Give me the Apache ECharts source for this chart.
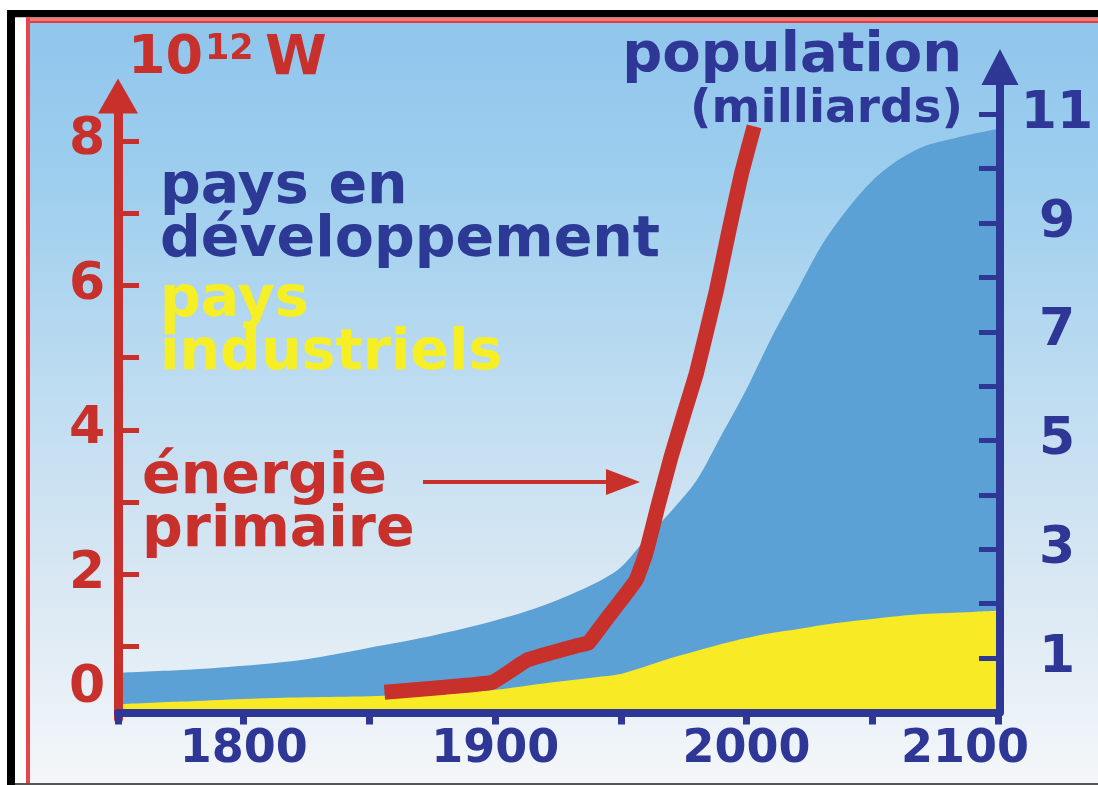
<!DOCTYPE html>
<html>
<head>
<meta charset="utf-8">
<script src="https://cdn.jsdelivr.net/npm/echarts@6/dist/echarts.min.js"></script>
<style>
  html, body { margin: 0; padding: 0; background: #fff; }
  #main { width: 1098px; height: 785px; }
</style>
</head>
<body>
<div id="main"></div>
<script>
// population (milliards)
var years = [1750, 1775, 1800, 1825, 1850, 1875, 1900, 1920, 1940, 1950, 1960, 1970, 1980,
             1990, 2000, 2010, 2020, 2030, 2040, 2050, 2060, 2070, 2080, 2090, 2100];
var popTotal = [0.73, 0.78, 0.86, 0.98, 1.19, 1.41, 1.69, 1.98, 2.38, 2.67, 3.2, 3.7, 4.26,
                5.1, 5.95, 6.9, 7.75, 8.6, 9.25, 9.78, 10.15, 10.4, 10.53, 10.64, 10.73];
var popIndus = [0.15, 0.2, 0.25, 0.28, 0.3, 0.33, 0.42, 0.54, 0.65, 0.71, 0.85, 1.0, 1.13,
                1.26, 1.37, 1.46, 1.53, 1.61, 1.67, 1.72, 1.77, 1.81, 1.83, 1.85, 1.87];

// energie primaire (10^12 W)
var energyYears = [1856, 1880, 1899, 1913, 1933, 1937, 1944, 1956, 1960, 1965, 1970, 1975, 1980, 1988, 1993, 1998, 2003];
var energy = [0.37, 0.44, 0.51, 0.82, 1.02, 1.05, 1.37, 1.92, 2.3, 2.98, 3.63, 4.21, 4.78, 5.93, 6.76, 7.55, 8.2];

var xTicks = [1750, 1800, 1850, 1900, 1950, 2000, 2050, 2100];
var xLabels = [1800, 1900, 2000, 2100];
var leftTicks = [1, 2, 3, 4, 5, 6, 7, 8];
var leftLabels = [0, 2, 4, 6, 8];
var rightTicks = [1, 2, 3, 4, 5, 6, 7, 8, 9, 10, 11];
var rightLabels = [1, 3, 5, 7, 9, 11];

var RED = '#c8302c';
var BLUE = '#2e3795';
var FONT = 'DejaVu Sans';

function pairs(xs, ys) {
    return xs.map(function (x, i) { return [x, ys[i]]; });
}

function caption(text, x, y, color, size, align) {
    return {
        type: 'text', z: 20, x: x, y: y,
        style: {
            text: text, fill: color, font: 'bold ' + size + 'px "DejaVu Sans"',
            align: align, verticalAlign: 'middle', textAlign: align, textVerticalAlign: 'middle'
        }
    };
}

var chart = echarts.init(document.getElementById('main'));

var option = {
    animation: false,
    grid: [
        { left: 118, right: 100, top: 96, bottom: 66 },
        { left: 118, right: 100, top: 67, bottom: 72.5 }
    ],
    xAxis: [
        { gridIndex: 0, type: 'value', min: 1750, max: 2100, show: false },
        {
            gridIndex: 1, type: 'value', min: 1750, max: 2100, z: 6,
            splitLine: { show: false },
            axisLine: { lineStyle: { color: BLUE, width: 8 } },
            axisTick: { customValues: xTicks, length: 12, lineStyle: { color: BLUE, width: 7 } },
            axisLabel: {
                customValues: xLabels, margin: 15,
                color: BLUE, fontFamily: FONT, fontWeight: 'bold', fontSize: 46,
                formatter: function (v) { return v === 2100 ? '{r|2100}' : String(v); },
                rich: { r: { color: BLUE, fontFamily: FONT, fontWeight: 'bold', fontSize: 46, padding: [0, 66, 0, 0] } }
            }
        }
    ],
    yAxis: [
        {
            gridIndex: 0, type: 'value', min: 0, max: 8.62, position: 'left', z: 5,
            splitLine: { show: false },
            axisLine: { show: true, symbol: ['none', 'triangle'], symbolSize: [40, 35],
                        lineStyle: { color: RED, width: 9 } },
            axisTick: { show: true, inside: true, customValues: leftTicks, length: 21,
                        lineStyle: { color: RED, width: 5 } },
            axisLabel: {
                customValues: leftLabels, showMinLabel: true, align: 'center', margin: 31,
                color: RED, fontFamily: FONT, fontWeight: 'bold', fontSize: 52,
                formatter: function (v) { return v === 0 ? '{z|0}' : String(v); },
                rich: { z: { color: RED, fontFamily: FONT, fontWeight: 'bold', fontSize: 52, padding: [0, 0, 62, 0] } }
            }
        },
        {
            gridIndex: 1, type: 'value', min: 0, max: 11.87, position: 'right', offset: 2, z: 5,
            splitLine: { show: false },
            axisLine: { show: true, symbol: ['none', 'triangle'], symbolSize: [37, 36],
                        lineStyle: { color: BLUE, width: 8 } },
            axisTick: { show: true, inside: true, customValues: rightTicks, length: 21,
                        lineStyle: { color: BLUE, width: 5 } },
            axisLabel: {
                customValues: rightLabels, align: 'center', margin: 57,
                color: BLUE, fontFamily: FONT, fontWeight: 'bold', fontSize: 52
            }
        }
    ],
    series: [
        {
            name: 'pays en développement', type: 'line', xAxisIndex: 1, yAxisIndex: 1, z: 2,
            data: pairs(years, popTotal), symbol: 'none', smooth: 0.3,
            lineStyle: { width: 0 }, areaStyle: { color: '#5ba1d6', opacity: 1 }
        },
        {
            name: 'pays industriels', type: 'line', xAxisIndex: 1, yAxisIndex: 1, z: 3,
            data: pairs(years, popIndus), symbol: 'none', smooth: 0.3,
            lineStyle: { width: 0 }, areaStyle: { color: '#f8eb26', opacity: 1 }
        },
        {
            name: 'énergie primaire', type: 'line', xAxisIndex: 0, yAxisIndex: 0, z: 4,
            data: pairs(energyYears, energy), symbol: 'none', smooth: 0.1,
            lineStyle: { color: RED, width: 15, join: 'round' }
        }
    ],
    graphic: {
        elements: [
            { type: 'rect', z: -1, shape: { x: 30, y: 23, width: 1068, height: 760 },
              style: { fill: new echarts.graphic.LinearGradient(0, 0, 0, 1, [
                  { offset: 0, color: '#90c5ec' },
                  { offset: 0.2, color: '#9dceee' },
                  { offset: 0.5, color: '#c0ddf1' },
                  { offset: 0.75, color: '#dae8f3' },
                  { offset: 1, color: '#f4f7f9' }
              ]) } },
            // frame
            { type: 'rect', z: 50, shape: { x: 7, y: 10, width: 1091, height: 7.5 }, style: { fill: '#000' } },
            { type: 'rect', z: 50, shape: { x: 7, y: 10, width: 8, height: 775 }, style: { fill: '#000' } },
            { type: 'rect', z: 50, shape: { x: 15, y: 17.5, width: 11, height: 766 }, style: { fill: '#fff' } },
            { type: 'rect', z: 50, shape: { x: 26, y: 17.5, width: 1072, height: 3 }, style: { fill: '#f07a7a' } },
            { type: 'rect', z: 50, shape: { x: 26, y: 20.5, width: 1072, height: 2.5 }, style: { fill: '#e8393c' } },
            { type: 'rect', z: 50, shape: { x: 26, y: 17.5, width: 4, height: 766 }, style: { fill: '#e8454a' } },
            { type: 'rect', z: 50, shape: { x: 15, y: 783, width: 1083, height: 2 }, style: { fill: '#555' } },
            // titles and captions
            caption('10', 128, 59, RED, 54, 'left'),
            caption('12', 205, 50, RED, 35, 'left'),
            caption('W', 265, 59, RED, 56, 'left'),
            caption('population', 962, 56, BLUE, 56, 'right'),
            caption('(milliards)', 963, 110, BLUE, 47, 'right'),
            caption('pays en', 160, 188, '#2c3a96', 57, 'left'),
            caption('développement', 160, 241, '#2c3a96', 57, 'left'),
            caption('pays', 160, 301, '#f6ef26', 57, 'left'),
            caption('industriels', 160, 354, '#f6ef26', 57, 'left'),
            caption('énergie', 142, 478, RED, 57, 'left'),
            caption('primaire', 142, 531, RED, 57, 'left'),
            // arrow to the energy curve
            { type: 'line', z: 20, shape: { x1: 423, y1: 482, x2: 612, y2: 482 }, style: { stroke: RED, lineWidth: 4 } },
            { type: 'polygon', z: 20, shape: { points: [[606, 469], [640, 482], [606, 495]] }, style: { fill: RED } }
        ]
    }
};

chart.setOption(option);
</script>
</body>
</html>
